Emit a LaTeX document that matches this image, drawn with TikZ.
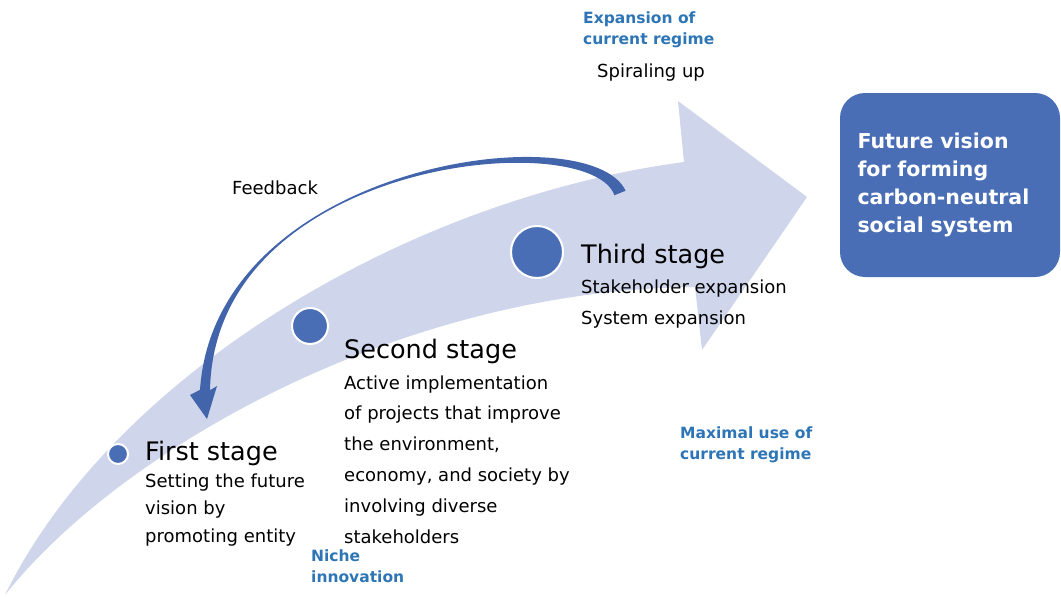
\documentclass[tikz,border=0pt]{standalone}
\usepackage{fontspec}
\setmainfont{DejaVu Sans}

\definecolor{bandblue}{HTML}{CFD5EA}
\definecolor{stageblue}{HTML}{4A6EB5}
\definecolor{loopblue}{HTML}{4264AA}
\definecolor{labelblue}{HTML}{2E75B6}

\begin{document}
\begin{tikzpicture}[x=1pt, y=-1pt,
    stagedot/.style={circle, fill=stageblue, draw=white, line width=2pt, inner sep=0pt},
    stagetitle/.style={anchor=base west, inner sep=0pt, font=\fontsize{25.5}{30}\selectfont},
    stagetext/.style={anchor=base west, inner sep=0pt, align=left},
    plainlabel/.style={anchor=base west, inner sep=0pt, font=\fontsize{18}{22}\selectfont},
    regime/.style={anchor=base west, inner sep=0pt, align=left, text=labelblue,
        font=\bfseries\fontsize{15.5}{21}\selectfont},
    visionbox/.style={fill=stageblue, rounded corners=25pt, text=white, align=left,
        text width=185pt, inner xsep=17.5pt, minimum width=220pt, minimum height=184pt,
        font=\bfseries\fontsize{20.5}{28}\selectfont}]
        \useasboundingbox (0,0) rectangle (1061,597);

        % Draw the big curved arrow
        \fill[bandblue] (5,595) .. controls (110,380) and (400,200) .. (684,162)
            -- (678,101) -- (807,197) -- (702,350) -- (695,287)
            .. controls (400,290) and (120,450) .. cycle;

        % Draw the feedback arrow (tapered)
        \fill[loopblue] (625.6,190.7) .. controls (589.4,114) and (215.3,163) .. (200,389.8)
            -- (190,395) -- (207,419) -- (217,386) -- (210,390.2)
            .. controls (214.7,157) and (590.6,126) .. (614.4,195.3) -- cycle;

        % Add stage dots
        \node[stagedot, minimum size=20pt] (dot1) at (118,454) {};
        \node[stagedot, minimum size=36pt] (dot2) at (310,326) {};
        \node[stagedot, minimum size=52pt] (dot3) at (537,252) {};

        % Add stage texts (base = baseline of the last line)
        \node[stagetitle] (first) at (145,460) {First stage};
        \node[stagetext, font=\fontsize{18}{27.5}\selectfont] (firsttext) at (145,542)
            {Setting the future\\vision by\\promoting entity};
        \node[stagetitle] (second) at (344,358) {Second stage};
        \node[stagetext, font=\fontsize{18}{30.8}\selectfont] (secondtext) at (344,543)
            {Active implementation\\of projects that improve\\the environment,\\economy, and society by\\involving diverse\\stakeholders};
        \node[stagetitle] (third) at (581,263) {Third stage};
        \node[stagetext, font=\fontsize{18}{31}\selectfont] (thirdtext) at (581,324)
            {Stakeholder expansion\\System expansion};

        % Add regime labels
        \node[regime] (expansion) at (583,45) {Expansion of\\current regime};
        \node[regime] (niche) at (311,582) {Niche\\innovation};
        \node[regime] (maximal) at (680,459) {Maximal use of\\current regime};
        \node[plainlabel] (spiral) at (597,77) {Spiraling up};
        \node[plainlabel] (feedback) at (232,194) {Feedback};

        % Add the vision box
        \node[visionbox] (vision) at (950,185)
            {Future vision\\for forming\\carbon-neutral\\social system};
    \end{tikzpicture}
\end{document}
